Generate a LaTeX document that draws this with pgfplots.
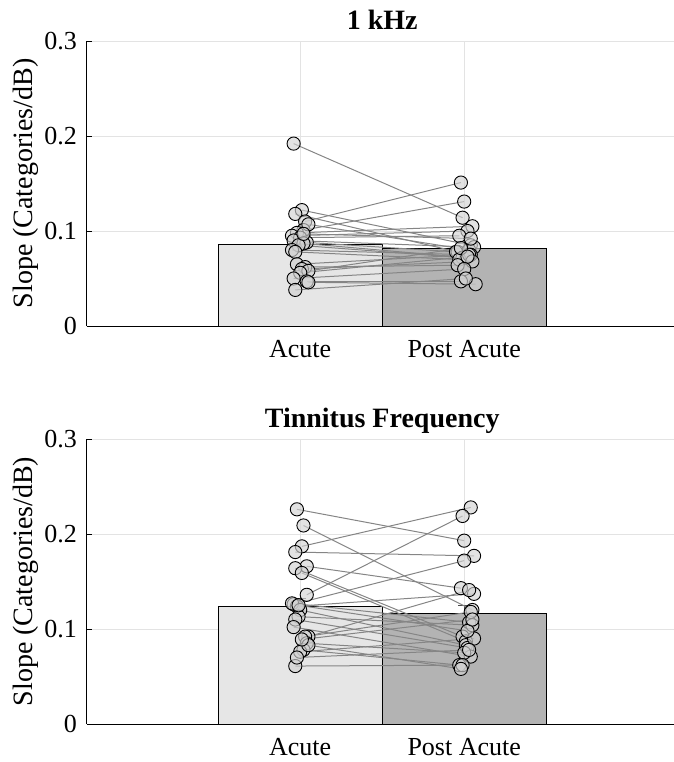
\documentclass[border=0pt]{standalone}
\usepackage{pgfplots}
\pgfplotsset{compat=1.18}
\usepackage{pgfplotstable}
\usepackage{fontspec}
\setmainfont{Liberation Serif}

\definecolor{acutebar}{HTML}{E6E6E6}
\definecolor{postbar}{HTML}{B3B3B3}
\definecolor{pointfill}{HTML}{D2D2D2}
\definecolor{gridgray}{HTML}{E3E3E3}
\definecolor{pairline}{HTML}{858585}

% Per-subject slopes: jittered x and value for each session
\pgfplotstableread{
xa   ya    xp   yp
0.96 0.192 1.99 0.114
1.01 0.122 2.04 0.085
0.97 0.118 1.96 0.078
1.03 0.110 1.98 0.151
1.02 0.101 2.00 0.131
1.05 0.107 2.03 0.080
0.98 0.098 2.05 0.105
0.95 0.095 2.02 0.100
1.00 0.093 1.97 0.095
0.96 0.090 2.06 0.083
1.04 0.088 1.95 0.078
1.02 0.087 2.01 0.072
0.99 0.085 1.99 0.072
0.95 0.080 2.04 0.075
0.97 0.078 1.97 0.070
0.98 0.065 2.03 0.075
1.03 0.062 1.96 0.064
1.01 0.060 2.05 0.068
1.05 0.058 1.98 0.082
1.00 0.056 2.02 0.073
0.96 0.050 2.00 0.060
1.04 0.047 1.98 0.047
1.05 0.046 2.07 0.044
0.97 0.038 2.01 0.050
1.02 0.097 2.04 0.092
}\onekhz

\pgfplotstableread{
xa   ya    xp   yp
0.98 0.226 2.00 0.193
1.02 0.209 2.05 0.120
1.01 0.187 2.04 0.228
0.97 0.181 2.06 0.177
1.04 0.166 1.98 0.143
0.97 0.164 1.99 0.092
1.01 0.159 2.01 0.087
1.04 0.136 1.99 0.219
0.96 0.126 2.00 0.172
0.98 0.124 2.06 0.137
0.95 0.127 2.03 0.107
1.00 0.120 2.01 0.083
0.99 0.113 2.05 0.104
0.97 0.110 2.02 0.080
0.96 0.102 2.04 0.071
1.05 0.092 2.03 0.141
1.03 0.092 2.04 0.118
1.04 0.085 2.00 0.075
1.02 0.078 1.97 0.062
1.00 0.076 2.06 0.090
0.97 0.061 1.99 0.062
1.05 0.083 1.98 0.058
0.99 0.125 2.02 0.098
1.01 0.089 2.05 0.110
0.98 0.070 2.03 0.078
}\tinnitus

\pgfplotsset{
  slopepanel/.style={
    scale only axis,
    width=295.2pt, height=142.5pt,
    xmin=-0.3, xmax=3.3,
    ymin=0, ymax=0.3,
    axis x line=bottom, axis y line=left,
    axis line style={-, black, line width=0.5pt},
    xtick={1,2}, xticklabels={Acute, Post Acute},
    ytick={0,0.1,0.2,0.3},
    tick align=inside,
    major tick length=2.5pt,
    tick style={black, line width=0.5pt},
    grid=major,
    major grid style={gridgray, line width=0.5pt},
    /pgf/number format/assume math mode=true,
    tick label style={font=\fontsize{13}{15}\selectfont},
    yticklabel style={xshift=-1.5pt},
    xticklabel style={yshift=-3.5pt},
    ylabel={Slope (Categories/dB)},
    ylabel style={font=\fontsize{14}{16}\selectfont, at={(axis description cs:-0.104,0.5)}, anchor=center},
    title style={font=\fontsize{14}{16}\selectfont\bfseries, anchor=base},
    clip=false,
  },
  sessionbar/.style={ybar, bar width=1, bar shift=0pt, draw=black, line width=0.5pt},
  pairlines/.style={pairline, line width=0.5pt, no markers,
    quiver={u=\thisrow{xp}-\thisrow{xa}, v=\thisrow{yp}-\thisrow{ya}}},
  subjects/.style={only marks, mark=*, mark size=3.3pt,
    mark options={draw=black, line width=0.45pt, fill=pointfill, fill opacity=0.65}},
  sembar/.style={draw=none, fill=none, forget plot,
    error bars/.cd, y dir=plus, y explicit,
    error bar style={black!70, line width=0.6pt}, error mark options={rotate=90, mark size=3pt, black!70}},
}

\begin{document}
\begin{tikzpicture}
\path[use as bounding box] (0,0) rectangle (337pt,-381pt);

\begin{axis}[slopepanel, at={(43.5pt,-163pt)}, anchor=south west, title={1 kHz}]
  \addplot[sessionbar, fill=acutebar] coordinates {(1,0.0853)};
  \addplot[sessionbar, fill=postbar] coordinates {(2,0.0820)};
  \addplot[sembar] coordinates {(1,0.0853) +- (0,0.0065) (2,0.0820) +- (0,0.0050)};
  \addplot[pairlines] table[x=xa, y=ya] {\onekhz};
  \addplot[subjects] table[x=xa, y=ya] {\onekhz};
  \addplot[subjects] table[x=xp, y=yp] {\onekhz};
\end{axis}

\begin{axis}[slopepanel, at={(43.5pt,-362pt)}, anchor=south west, title={Tinnitus Frequency}]
  \addplot[sessionbar, fill=acutebar] coordinates {(1,0.1232)};
  \addplot[sessionbar, fill=postbar] coordinates {(2,0.1160)};
  \addplot[sembar] coordinates {(1,0.1232) +- (0,0.0090) (2,0.1160) +- (0,0.0090)};
  \addplot[pairlines] table[x=xa, y=ya] {\tinnitus};
  \addplot[subjects] table[x=xa, y=ya] {\tinnitus};
  \addplot[subjects] table[x=xp, y=yp] {\tinnitus};
\end{axis}
\end{tikzpicture}
\end{document}
